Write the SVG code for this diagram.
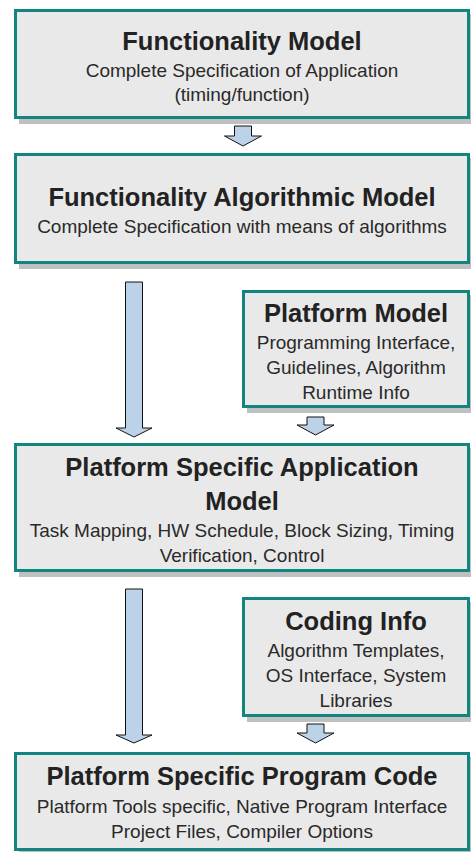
<svg xmlns="http://www.w3.org/2000/svg" width="471" height="852" viewBox="0 0 471 852">
  <style>
    .shadow { fill: #c0c0c0; }
    .box { fill: #e9e9e9; stroke: #138580; stroke-width: 3; }
    .title { font-family: "Liberation Sans", Arial, sans-serif; font-weight: bold; font-size: 25.5px; fill: #222222; text-anchor: middle; }
    .sub { font-family: "Liberation Sans", Arial, sans-serif; font-size: 19px; fill: #2a2a2a; text-anchor: middle; }
    .arrow { fill: #bcd2e8; stroke: #111111; stroke-width: 1; stroke-linejoin: miter; }
  </style>
  <rect width="471" height="852" fill="#ffffff"/>

  <!-- block arrows -->
  <g id="connectors">
    <path class="arrow" d="M234.5,126 H251.5 V136 H261.5 L243,146 L224.5,136 H234.5 Z"/>
    <path class="arrow" d="M125.5,282 H142.5 V428 H152 L134,437 L116,428 H125.5 Z"/>
    <path class="arrow" d="M307,417 H324 V425 H334 L315.5,435 L297,425 H307 Z"/>
    <path class="arrow" d="M125.5,589 H142.5 V735 H152 L134,743 L116,735 H125.5 Z"/>
    <path class="arrow" d="M307,724 H324 V733 H334 L315.5,743 L297,733 H307 Z"/>
  </g>

  <g id="functionality-model">
    <rect class="shadow" x="19" y="14" width="456" height="110"/>
    <rect class="box" x="15.5" y="10.5" width="453" height="107"/>
    <text class="title" x="242" y="50">Functionality Model</text>
    <text class="sub" x="242" y="77">Complete Specification of Application</text>
    <text class="sub" x="242" y="101">(timing/function)</text>
  </g>

  <g id="functionality-algorithmic-model">
    <rect class="shadow" x="19" y="158" width="456" height="111"/>
    <rect class="box" x="15.5" y="154.5" width="453" height="108"/>
    <text class="title" x="242" y="206">Functionality Algorithmic Model</text>
    <text class="sub" x="242" y="233">Complete Specification with means of algorithms</text>
  </g>

  <g id="platform-model">
    <rect class="shadow" x="247" y="295" width="228" height="118"/>
    <rect class="box" x="243.5" y="291.5" width="225" height="115"/>
    <text class="title" x="356" y="322">Platform Model</text>
    <text class="sub" x="356" y="349">Programming Interface,</text>
    <text class="sub" x="356" y="374">Guidelines, Algorithm</text>
    <text class="sub" x="356" y="399">Runtime Info</text>
  </g>

  <g id="platform-specific-application-model">
    <rect class="shadow" x="19" y="448" width="456" height="129"/>
    <rect class="box" x="15.5" y="444.5" width="453" height="126"/>
    <text class="title" x="242" y="476">Platform Specific Application</text>
    <text class="title" x="242" y="510">Model</text>
    <text class="sub" x="242" y="537">Task Mapping, HW Schedule, Block Sizing, Timing</text>
    <text class="sub" x="242" y="562">Verification, Control</text>
  </g>

  <g id="coding-info">
    <rect class="shadow" x="247" y="602" width="228" height="120"/>
    <rect class="box" x="243.5" y="598.5" width="225" height="117"/>
    <text class="title" x="356" y="630">Coding Info</text>
    <text class="sub" x="356" y="657">Algorithm Templates,</text>
    <text class="sub" x="356" y="682">OS Interface, System</text>
    <text class="sub" x="356" y="707">Libraries</text>
  </g>

  <g id="platform-specific-program-code">
    <rect class="shadow" x="19" y="757" width="456" height="99"/>
    <rect class="box" x="15.5" y="753.5" width="453" height="96"/>
    <text class="title" x="242" y="785">Platform Specific Program Code</text>
    <text class="sub" x="242" y="813">Platform Tools specific, Native Program Interface</text>
    <text class="sub" x="242" y="838">Project Files, Compiler Options</text>
  </g>
</svg>
